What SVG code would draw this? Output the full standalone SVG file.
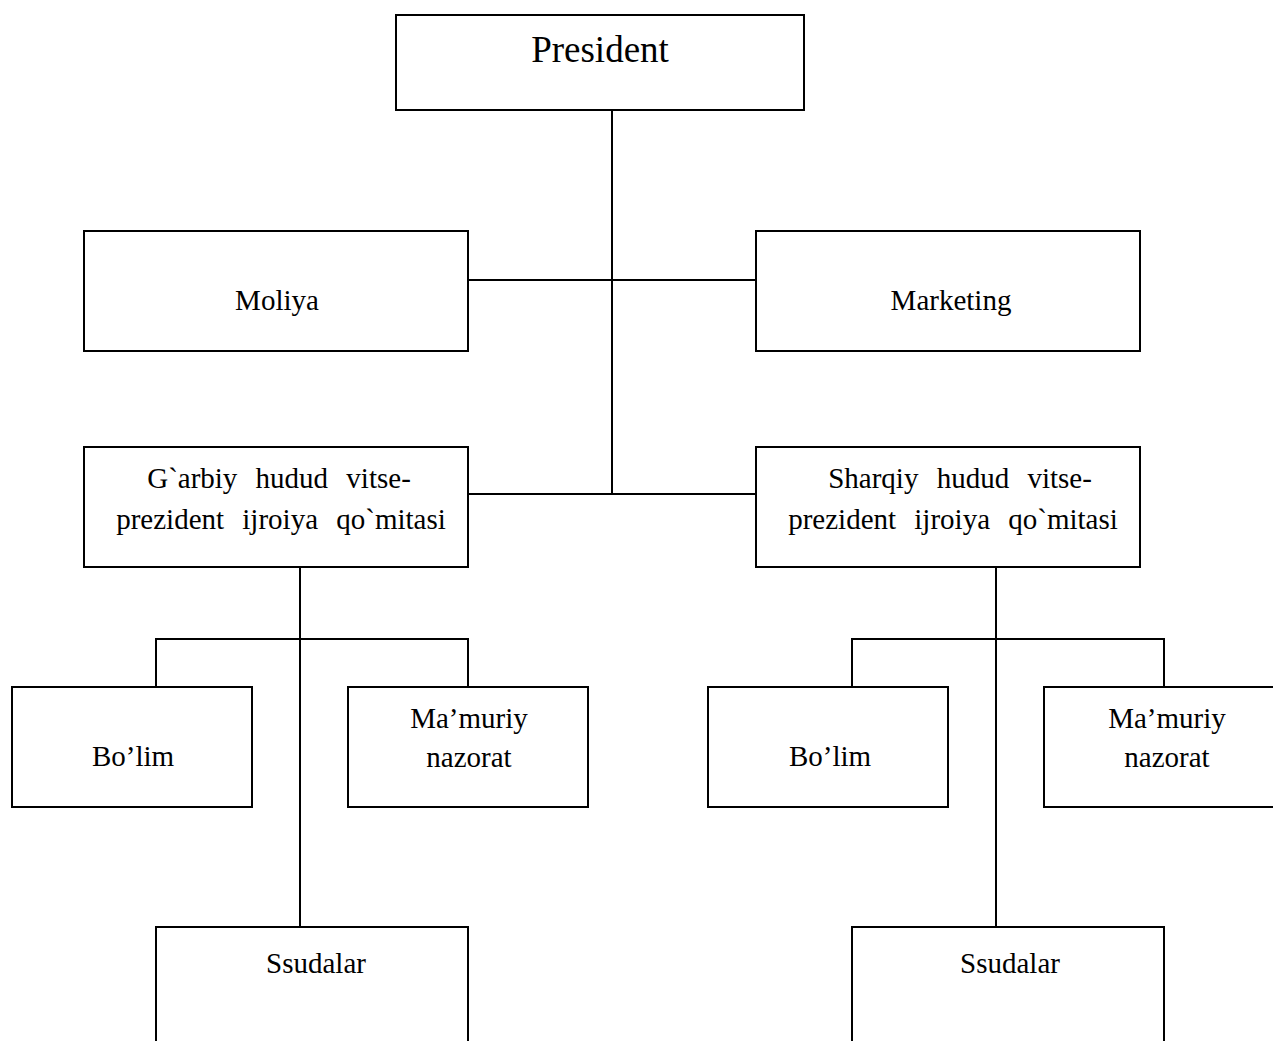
<svg xmlns="http://www.w3.org/2000/svg" width="1273" height="1041" viewBox="0 0 1273 1041">
<style>
.box{fill:#fff;stroke:#000;stroke-width:2}
.ln{stroke:#000;stroke-width:2;fill:none}
text{font-family:"Liberation Serif","Times New Roman",serif;font-size:29px;fill:#000;text-anchor:middle}
.big{font-size:37px}
.ws{word-spacing:11px}
</style>
<rect width="1273" height="1041" fill="#fff"/>
<g id="connectors">
<path class="ln" d="M612 110V494M468 280H756M468 494H756"/>
<path class="ln" d="M300 567V927M156 687V639H468V687"/>
<path class="ln" d="M996 567V927M852 687V639H1164V687"/>
</g>
<g id="president"><rect class="box" x="396" y="15" width="408" height="95"/><text class="big" x="600" y="62">President</text></g>
<g id="moliya"><rect class="box" x="84" y="231" width="384" height="120"/><text x="277" y="310">Moliya</text></g>
<g id="marketing"><rect class="box" x="756" y="231" width="384" height="120"/><text x="951" y="310">Marketing</text></g>
<g id="garbiy"><rect class="box" x="84" y="447" width="384" height="120"/><text class="ws" x="279" y="488">G`arbiy hudud vitse-</text><text class="ws" x="281" y="529">prezident ijroiya qo`mitasi</text></g>
<g id="sharqiy"><rect class="box" x="756" y="447" width="384" height="120"/><text class="ws" x="960" y="488">Sharqiy hudud vitse-</text><text class="ws" x="953" y="529">prezident ijroiya qo`mitasi</text></g>
<g id="bolim-left"><rect class="box" x="12" y="687" width="240" height="120"/><text x="133" y="766">Bo’lim</text></g>
<g id="mamuriy-left"><rect class="box" x="348" y="687" width="240" height="120"/><text x="469" y="728">Ma’muriy</text><text x="469" y="767">nazorat</text></g>
<g id="bolim-right"><rect class="box" x="708" y="687" width="240" height="120"/><text x="830" y="766">Bo’lim</text></g>
<g id="mamuriy-right"><rect class="box" x="1044" y="687" width="240" height="120"/><text x="1167" y="728">Ma’muriy</text><text x="1167" y="767">nazorat</text></g>
<g id="ssudalar-left"><rect class="box" x="156" y="927" width="312" height="130"/><text x="316" y="973">Ssudalar</text></g>
<g id="ssudalar-right"><rect class="box" x="852" y="927" width="312" height="130"/><text x="1010" y="973">Ssudalar</text></g>
</svg>
